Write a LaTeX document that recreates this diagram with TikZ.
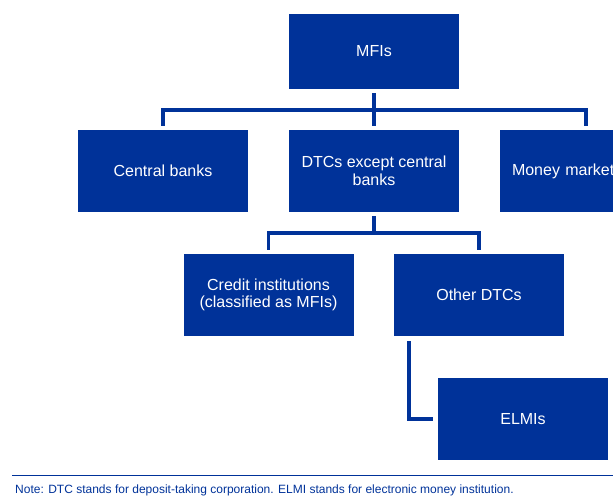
\documentclass[tikz,border=0pt]{standalone}
\usepackage{fontspec}
\setmainfont{Liberation Sans}
\usetikzlibrary{calc}
\definecolor{ecbblue}{HTML}{003299}
\tikzset{
  box/.style={fill=ecbblue, text=white, minimum width=170pt, minimum height=82pt,
    inner sep=0pt, align=center, font=\fontsize{16}{17.5}\selectfont},
  link/.style={draw=ecbblue, line width=3.5pt, shorten <=4pt, shorten >=4pt}
}
\begin{document}
\begin{tikzpicture}[x=1pt,y=-1pt]
\clip (0,0) rectangle (613,497);
\node[box, minimum height=75pt] (mfi) at (374,51.5) {MFIs};
\node[box] (cb) at (163,171) {Central banks};
\node[box] (dtc) at (374,171) {DTCs except central\\banks};
\node[box, text width=146pt, align=left] (mmf) at (585,171) {Money market};
\node[box] (cred) at (268.5,295) {Credit institutions\\(classified as MFIs)};
\node[box] (odtc) at (479,295) {Other DTCs};
\node[box] (elmi) at (523,419) {ELMIs};
\coordinate (top) at (0,110);
\coordinate (mid) at (0,233);
\draw[link] (mfi.south) -- (mfi.south |- dtc.north);
\draw[link] (cb.north) -- (cb.north |- top) -| ([xshift=1pt]mmf.north);
\draw[link, shorten >=0pt] (dtc.south) -- (dtc.south |- mid);
\draw[link] (cred.north) -- (cred.north |- mid) -| (odtc.north);
\draw[link, shorten <=5pt, shorten >=5pt] ([xshift=15pt]odtc.south west) |- (elmi.west);
\draw[ecbblue, line width=1pt] (12,475) -- (613,475);
\node[anchor=base west, inner sep=0pt, text=ecbblue, font=\fontsize{12}{14}\selectfont] (note) at (15,493.5)
  {Note: DTC stands for deposit-taking corporation. ELMI stands for electronic money institution.};
\end{tikzpicture}
\end{document}
